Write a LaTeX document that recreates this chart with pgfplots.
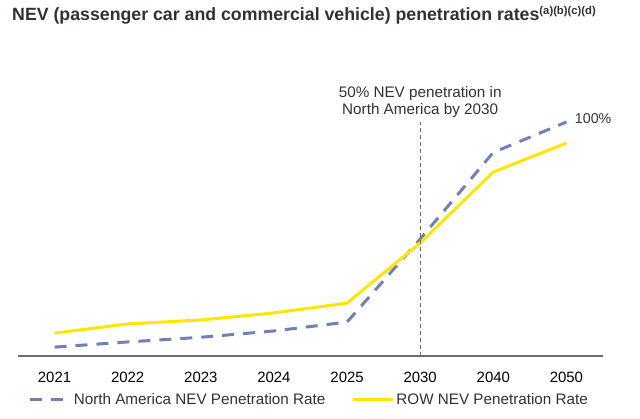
\documentclass[border=0pt]{standalone}
\usepackage{fontspec}
\setmainfont{Liberation Sans}
\usepackage{pgfplots}
\pgfplotsset{compat=1.18}
\definecolor{txt}{HTML}{2E3238}
\definecolor{nablue}{HTML}{7281B5}
\definecolor{rowyel}{HTML}{FFE600}
\definecolor{axgray}{HTML}{6B6B6B}
\begin{document}
\begin{tikzpicture}[x=1bp,y=1bp]
\path (0,0) rectangle (640,418);
\node[anchor=west, font=\bfseries\fontsize{17.8}{20}\selectfont, text=txt, inner sep=0] at (12,403) {NEV (passenger car and commercial vehicle) penetration rates\textsuperscript{\fontsize{11.3}{12}\selectfont(a)(b)(c)(d)}};
\begin{axis}[
  at={(18bp,62bp)}, anchor=south west,
  scale only axis, width=585bp, height=234bp,
  xmin=-0.5, xmax=7.5, ymin=0, ymax=100,
  axis x line=bottom, axis y line=none,
  axis line style={-, draw=axgray, line width=1.4bp},
  xtick={0,1,2,3,4,5,6,7},
  xticklabels={2021,2022,2023,2024,2025,2030,2040,2050},
  major tick length=0pt,
  /pgf/number format/assume math mode=true,
  xticklabel style={anchor=center, yshift=-21bp, font=\fontsize{15}{17}\selectfont, text=black},
  clip=false,
  legend columns=2,
  legend style={at={(0.498,-0.188)}, anchor=center, draw=none, fill=none,
    font=\fontsize{15.3}{17}\selectfont, text=txt,
    /tikz/every even column/.append style={column sep=24bp}},
  legend image code/.code={\draw[#1] (0bp,0bp) -- (40bp,0bp);},
]
\addplot[nablue, line width=3bp, dash pattern=on 12bp off 9bp, line join=round] coordinates {
 (0,3.8) (1,6) (2,8) (3,10.7) (4,14.5) (5,50) (6,87) (7,100)};
\addlegendentry{North America NEV Penetration Rate}
\addplot[rowyel, line width=3bp, line join=round] coordinates {
 (0,9.8) (1,13.7) (2,15.4) (3,18.4) (4,22.6) (5,48.3) (6,78.6) (7,91)};
\addlegendentry{ROW NEV Penetration Rate}
\draw[axgray, line width=1.3bp, dash pattern=on 4bp off 3bp] (axis cs:5,0) -- (axis cs:5,100);
\node[align=center, font=\fontsize{15.3}{17}\selectfont, text=txt] at (axis cs:5,108.4) {50\% NEV penetration in\\North America by 2030};
\node[anchor=west, font=\fontsize{14.3}{16}\selectfont, text=txt, xshift=5bp] at (axis cs:7,101.5) {100\%};
\end{axis}
\end{tikzpicture}
\end{document}
